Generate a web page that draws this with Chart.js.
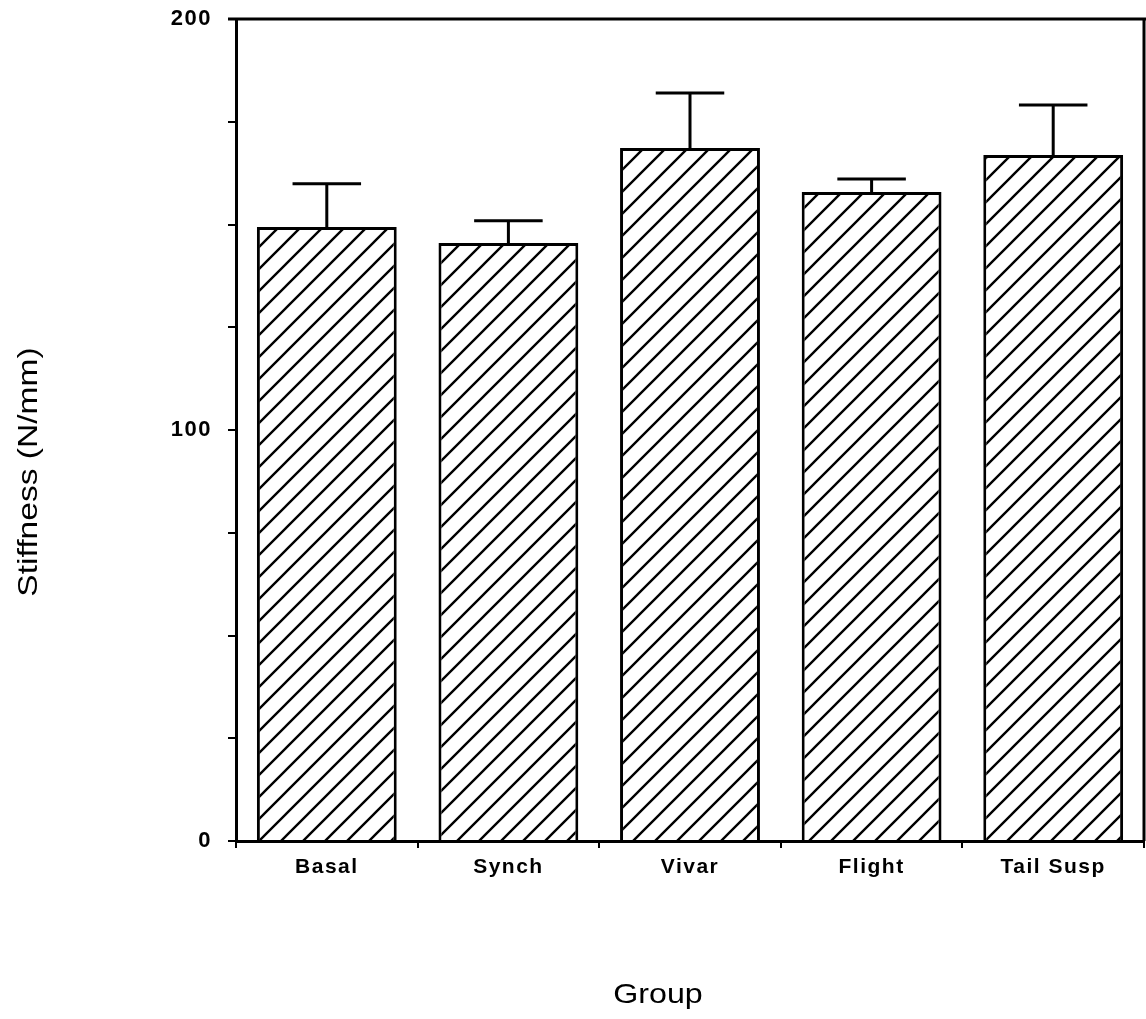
<!DOCTYPE html>
<html>
<head>
<meta charset="utf-8">
<title>Stiffness by Group</title>
<script src="https://cdn.jsdelivr.net/npm/chart.js@4/dist/chart.umd.min.js"></script>
<style>
  html, body { margin: 0; padding: 0; background: #fff; }
  #wrap { width: 1146px; height: 1019px; position: relative; }
</style>
</head>
<body>
<div id="wrap"><canvas id="c" width="1146" height="1019"></canvas></div>
<script>
// Groups and measured stiffness (mean and upper error, N/mm)
const groups = ['Basal', 'Synch', 'Vivar', 'Flight', 'Tail Susp'];
const stiffness = [149.4, 145.5, 168.6, 157.9, 166.9];
const stiffnessErr = [10.5, 5.4, 13.4, 3.2, 12.2];
const yTickLabels = [0, 100, 200];

const xTitle = 'Group';
const yTitle = 'Stiffness (N/mm)';

// Diagonal hatch fill for the bars
function makeHatch() {
  const s = 22;
  const p = document.createElement('canvas');
  p.width = s; p.height = s;
  const g = p.getContext('2d');
  g.fillStyle = '#fff';
  g.fillRect(0, 0, s, s);
  g.strokeStyle = '#000';
  g.lineWidth = 2.4;
  g.lineCap = 'square';
  g.beginPath();
  g.moveTo(0, s); g.lineTo(s, 0);
  g.moveTo(-2, 2); g.lineTo(2, -2);
  g.moveTo(s - 2, s + 2); g.lineTo(s + 2, s - 2);
  g.stroke();
  return g.createPattern(p, 'repeat');
}

const ctx = document.getElementById('c').getContext('2d');
const hatch = makeHatch();

// Slightly spaced lettering for tick labels
const spacing = {
  id: 'spacing',
  beforeUpdate(chart) { chart.ctx.letterSpacing = '1.5px'; },
  beforeDraw(chart) { chart.ctx.letterSpacing = '1.5px'; }
};

// Upper error bars with caps
const errorBars = {
  id: 'errorBars',
  afterDatasetsDraw(chart) {
    const c = chart.ctx;
    const y = chart.scales.y;
    const meta = chart.getDatasetMeta(0);
    c.save();
    c.strokeStyle = '#000';
    c.lineWidth = 3;
    meta.data.forEach((bar, i) => {
      const top = y.getPixelForValue(stiffness[i] + stiffnessErr[i]);
      const half = bar.width * 0.245;
      c.beginPath();
      c.moveTo(bar.x, bar.y);
      c.lineTo(bar.x, top);
      c.moveTo(bar.x - half, top);
      c.lineTo(bar.x + half, top);
      c.stroke();
    });
    c.restore();
  }
};

// Top and right frame lines plus the axis titles
const frameAndTitles = {
  id: 'frameAndTitles',
  afterDraw(chart) {
    const c = chart.ctx;
    const a = chart.chartArea;
    c.save();
    c.strokeStyle = '#000';
    c.lineWidth = 3;
    c.beginPath();
    c.moveTo(a.left - 8, a.top);
    c.lineTo(chart.width, a.top);
    c.moveTo(a.right, a.top);
    c.lineTo(a.right, a.bottom);
    c.stroke();

    c.letterSpacing = '0px';
    c.fillStyle = '#000';
    c.font = '28px "Liberation Sans", Arial, sans-serif';
    c.textAlign = 'center';
    c.textBaseline = 'alphabetic';

    c.save();
    c.translate(658, 1003);
    c.scale(1.15, 1);
    c.fillText(xTitle, 0, 0);
    c.restore();

    c.save();
    c.translate(37, 472);
    c.rotate(-Math.PI / 2);
    c.scale(1.2, 1);
    c.fillText(yTitle, 0, 0);
    c.restore();

    c.restore();
  }
};

function noEdgePadding(scale) {
  scale.paddingTop = 0;
  scale.paddingBottom = 0;
  scale.paddingLeft = 0;
  scale.paddingRight = 0;
}

new Chart(ctx, {
  type: 'bar',
  data: {
    labels: groups,
    datasets: [{
      data: stiffness,
      backgroundColor: hatch,
      borderColor: '#000',
      borderWidth: 3,
      barPercentage: 0.77,
      categoryPercentage: 1
    }]
  },
  options: {
    responsive: false,
    animation: false,
    events: [],
    layout: { padding: { top: 19, right: 2, left: 0, bottom: 0 } },
    plugins: {
      legend: { display: false },
      tooltip: { enabled: false },
      title: { display: false }
    },
    scales: {
      x: {
        offset: true,
        grid: {
          offset: true,
          drawOnChartArea: false,
          drawTicks: true,
          tickLength: 7,
          color: '#000',
          lineWidth: 2
        },
        border: { display: true, color: '#000', width: 3 },
        ticks: {
          color: '#000',
          padding: 7,
          font: { family: '"Liberation Sans", Arial, sans-serif', size: 21, weight: 'bold' }
        },
        afterFit(scale) { scale.height = 178; noEdgePadding(scale); }
      },
      y: {
        min: 0,
        max: 200,
        grid: {
          drawOnChartArea: false,
          drawTicks: true,
          tickLength: 8,
          color: '#000',
          lineWidth: 2
        },
        border: { display: true, color: '#000', width: 3 },
        ticks: {
          stepSize: 25,
          color: '#000',
          padding: 16,
          font: { family: '"Liberation Sans", Arial, sans-serif', size: 22, weight: 'bold' },
          callback: (v) => (yTickLabels.includes(v) ? String(v) : '')
        },
        afterFit(scale) { scale.width = 236; noEdgePadding(scale); }
      }
    }
  },
  plugins: [spacing, errorBars, frameAndTitles]
});
</script>
</body>
</html>
